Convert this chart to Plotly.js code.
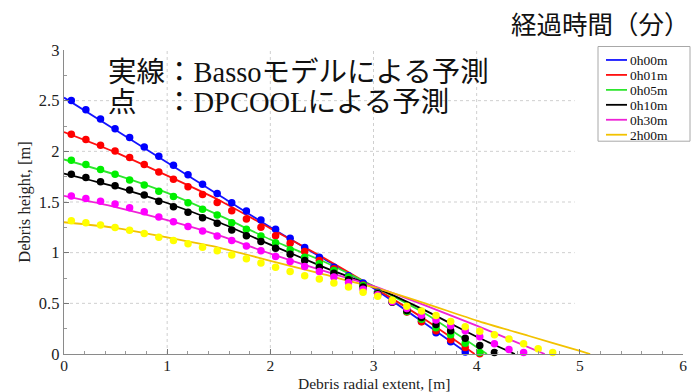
<!DOCTYPE html>
<html>
<head>
<meta charset="utf-8">
<script src="https://cdn.plot.ly/plotly-3.0.1.min.js"></script>
<style>
  html, body { margin: 0; padding: 0; background: #ffffff; }
  #chart { width: 693px; height: 392px; }
</style>
</head>
<body>
<div id="chart"></div>
<script>
// Elapsed-time series names
const seriesNames = ['0h00m', '0h01m', '0h05m', '0h10m', '0h30m', '2h00m'];

// Radial positions of the DPCOOL cell centres [m]
const dotX = [0.071, 0.212, 0.354, 0.495, 0.636, 0.778, 0.919, 1.061, 1.202, 1.343,
              1.485, 1.626, 1.768, 1.909, 2.051, 2.192, 2.333, 2.475, 2.616, 2.758,
              2.899, 3.041, 3.182, 3.323, 3.465, 3.606, 3.748, 3.889, 4.030, 4.172,
              4.313, 4.455, 4.596, 4.737];

// DPCOOL debris heights [m]
const dots_0h00m = [2.502, 2.411, 2.319, 2.224, 2.136, 2.043, 1.952, 1.863, 1.770, 1.675,
                    1.585, 1.493, 1.411, 1.322, 1.231, 1.142, 1.050, 0.956, 0.857, 0.772,
                    0.700, 0.610, 0.520, 0.420, 0.320, 0.210, 0.120, 0.020];
const dots_0h01m = [2.168, 2.116, 2.060, 2.004, 1.939, 1.870, 1.797, 1.724, 1.650, 1.573,
                    1.495, 1.414, 1.332, 1.250, 1.168, 1.093, 1.011, 0.922, 0.841, 0.759,
                    0.680, 0.600, 0.515, 0.415, 0.318, 0.230, 0.140, 0.065, 0.003];
const dots_0h05m = [1.912, 1.870, 1.821, 1.775, 1.716, 1.667, 1.606, 1.555, 1.493, 1.428,
                    1.371, 1.296, 1.231, 1.165, 1.099, 1.028, 0.956, 0.890, 0.824, 0.759,
                    0.675, 0.600, 0.515, 0.420, 0.342, 0.260, 0.190, 0.105, 0.015];
const dots_0h10m = [1.775, 1.742, 1.699, 1.660, 1.618, 1.568, 1.507, 1.453, 1.398, 1.345,
                    1.290, 1.224, 1.168, 1.109, 1.044, 0.985, 0.922, 0.857, 0.798, 0.733,
                    0.660, 0.595, 0.510, 0.430, 0.360, 0.290, 0.230, 0.155, 0.085, 0.015];
const dots_0h30m = [1.560, 1.535, 1.508, 1.480, 1.443, 1.404, 1.352, 1.306, 1.257, 1.214,
                    1.165, 1.119, 1.067, 1.018, 0.962, 0.913, 0.863, 0.814, 0.759, 0.706,
                    0.640, 0.585, 0.515, 0.450, 0.383, 0.335, 0.280, 0.230, 0.170, 0.100,
                    0.044, 0.015];
const dots_2h00m = [1.316, 1.296, 1.272, 1.248, 1.220, 1.190, 1.152, 1.119, 1.087, 1.054,
                    1.018, 0.978, 0.939, 0.897, 0.857, 0.814, 0.772, 0.739, 0.700, 0.661,
                    0.610, 0.570, 0.530, 0.470, 0.425, 0.380, 0.320, 0.270, 0.225, 0.190,
                    0.147, 0.100, 0.052, 0.015];

// Basso model profiles: radial positions and heights [m]
const bassoX_0h00m = [0, 0.5, 1, 1.5, 2, 2.5, 3, 3.5, 3.92];
const bassoY_0h00m = [2.53, 2.21, 1.89, 1.57, 1.25, 0.95, 0.65, 0.30, 0];
const bassoX_0h01m = [0, 0.5, 1, 1.5, 2, 2.5, 3, 3.5, 3.98];
const bassoY_0h01m = [2.19, 1.99, 1.76, 1.52, 1.24, 0.96, 0.66, 0.34, 0];
const bassoX_0h05m = [0, 0.5, 1, 1.5, 2, 2.5, 3, 3.5, 4.10];
const bassoY_0h05m = [1.92, 1.77, 1.59, 1.37, 1.13, 0.92, 0.67, 0.40, 0];
const bassoX_0h10m = [0, 0.5, 1, 1.5, 2, 2.5, 3, 3.5, 4, 4.37];
const bassoY_0h10m = [1.78, 1.65, 1.49, 1.30, 1.08, 0.865, 0.665, 0.43, 0.17, 0];
const bassoX_0h30m = [0, 0.5, 1, 1.5, 2, 2.5, 3, 3.5, 4, 4.66];
const bassoY_0h30m = [1.56, 1.45, 1.32, 1.17, 0.99, 0.825, 0.67, 0.48, 0.28, 0];
const bassoX_2h00m = [0, 0.5, 1, 1.5, 2, 2.5, 3, 3.5, 4, 4.5, 5, 5.10];
const bassoY_2h00m = [1.30, 1.245, 1.15, 1.05, 0.92, 0.79, 0.66, 0.50, 0.33, 0.18, 0.03, 0];

const xTicks = [0, 1, 2, 3, 4, 5, 6];
const yTicks = [0, 0.5, 1, 1.5, 2, 2.5, 3];

const lineColors = ['#1414ff', '#ff1010', '#2ee62e', '#000000', '#ee22d6', '#f2c200'];
const dotColors  = ['#0000ff', '#ff0000', '#00f000', '#000000', '#ff00ff', '#ffff00'];

const bassoX = [bassoX_0h00m, bassoX_0h01m, bassoX_0h05m, bassoX_0h10m, bassoX_0h30m, bassoX_2h00m];
const bassoY = [bassoY_0h00m, bassoY_0h01m, bassoY_0h05m, bassoY_0h10m, bassoY_0h30m, bassoY_2h00m];
const dotsY  = [dots_0h00m, dots_0h01m, dots_0h05m, dots_0h10m, dots_0h30m, dots_2h00m];

const traces = [];
seriesNames.forEach((name, i) => {
  traces.push({
    type: 'scatter', mode: 'lines', name: name,
    x: bassoX[i], y: bassoY[i],
    line: { color: lineColors[i], width: 1.8, shape: 'spline', smoothing: 0.6 },
    showlegend: false, hoverinfo: 'skip', cliponaxis: true
  });
});
seriesNames.forEach((name, i) => {
  traces.push({
    type: 'scatter', mode: 'markers', name: name + ' DPCOOL',
    x: dotX.slice(0, dotsY[i].length), y: dotsY[i],
    marker: { color: dotColors[i], size: 7.5, line: { width: 0 } },
    showlegend: false, hoverinfo: 'skip', cliponaxis: false
  });
});

// Plot box in page pixels, used to place the free-standing decorations
const W = 693, H = 392;
const box = { l: 64, r: 683, t: 49.5, b: 354.5 };
const px2x = p => (p - box.l) / (box.r - box.l);
const px2y = p => (box.b - p) / (box.b - box.t);

const shapes = [];
const gridStyle = { color: '#cfcfcf', width: 1, dash: 'dot' };
[0.5, 1, 1.5, 2, 2.5].forEach(v => {
  shapes.push({ type: 'line', xref: 'x', yref: 'y', x0: 0, x1: 4.95, y0: v, y1: v, line: gridStyle, layer: 'below' });
});
[1, 2, 3, 4].forEach(v => {
  shapes.push({ type: 'line', xref: 'x', yref: 'y', x0: v, x1: v, y0: 0, y1: 3, line: gridStyle, layer: 'below' });
});

// Legend box
const rowGap = 15, firstRow = 59.5;
const legTop = 46, legBottom = 141, legLeft = 598, legRight = 690;
shapes.push({ type: 'rect', xref: 'paper', yref: 'paper',
  x0: px2x(legLeft), x1: px2x(legRight), y0: px2y(legBottom), y1: px2y(legTop),
  line: { color: '#a8a8a8', width: 1 }, fillcolor: '#ffffff', layer: 'above' });

const annotations = [];
seriesNames.forEach((name, i) => {
  const yc = firstRow + rowGap * i;
  shapes.push({ type: 'line', xref: 'paper', yref: 'paper',
    x0: px2x(606), x1: px2x(627), y0: px2y(yc), y1: px2y(yc),
    line: { color: lineColors[i], width: 1.8 }, layer: 'above' });
  annotations.push({ xref: 'paper', yref: 'paper', x: px2x(628), y: px2y(yc),
    xanchor: 'left', yanchor: 'middle', showarrow: false, text: name,
    height: 14, valign: 'middle',
    font: { family: 'Liberation Serif, Times New Roman, serif', size: 13.5, color: '#111' } });
});

annotations.push({ xref: 'paper', yref: 'paper', x: px2x(509), y: px2y(22),
  xanchor: 'left', yanchor: 'middle', showarrow: false, text: '経過時間（分）',
  font: { family: 'Noto Sans CJK JP, sans-serif', size: 25.5, color: '#111' } });

const noteFont = { family: 'Liberation Serif, Noto Sans CJK JP, serif', size: 28.5, color: '#111' };
annotations.push({ xref: 'paper', yref: 'paper', x: px2x(106), y: px2y(72),
  xanchor: 'left', yanchor: 'middle', showarrow: false,
  text: '実線：Bassoモデルによる予測', font: noteFont });
annotations.push({ xref: 'paper', yref: 'paper', x: px2x(106), y: px2y(102),
  xanchor: 'left', yanchor: 'middle', showarrow: false,
  text: '点\u3000：DPCOOLによる予測', font: noteFont });

// x-axis caption sits just below the tick labels
annotations.push({ xref: 'paper', yref: 'paper', x: 0.5, y: px2y(384.5),
  xanchor: 'center', yanchor: 'middle', showarrow: false,
  text: 'Debris radial extent, [m]',
  font: { family: 'Liberation Serif, Times New Roman, serif', size: 15.5, color: '#222' } });

const tickFont = { family: 'Liberation Serif, Times New Roman, serif', size: 15.5, color: '#222' };
const titleFont = { family: 'Liberation Serif, Times New Roman, serif', size: 16.5, color: '#222' };

const layout = {
  width: W, height: H,
  margin: { l: box.l, r: W - box.r, t: box.t, b: H - box.b, pad: 0 },
  paper_bgcolor: '#ffffff', plot_bgcolor: '#ffffff',
  showlegend: false,
  xaxis: {
    range: [0, 6], tickvals: xTicks, ticktext: xTicks.map(String),
    ticks: 'inside', ticklen: 5, tickcolor: '#777', tickwidth: 1,
    showline: true, linecolor: '#8a8a8a', linewidth: 1.3,
    showgrid: false, zeroline: false,
    minor: { ticks: 'inside', dtick: 0.2, tick0: 0, ticklen: 3, tickcolor: '#999', showgrid: false },
    tickfont: tickFont, ticklabelstandoff: -3
  },
  yaxis: {
    range: [0, 3], tickvals: yTicks, ticktext: yTicks.map(String),
    ticks: 'inside', ticklen: 5, tickcolor: '#777', tickwidth: 1,
    showline: true, linecolor: '#8a8a8a', linewidth: 1.3,
    showgrid: false, zeroline: false,
    minor: { ticks: 'inside', dtick: 0.25, tick0: 0, ticklen: 3, tickcolor: '#999', showgrid: false },
    tickfont: { family: 'Liberation Serif, Times New Roman, serif', size: 16.5, color: '#222' },
    title: { text: 'Debris height, [m]', font: titleFont, standoff: 4 }
  },
  shapes: shapes,
  annotations: annotations
};

Plotly.newPlot('chart', traces, layout, { displayModeBar: false, staticPlot: true });
</script>
</body>
</html>
